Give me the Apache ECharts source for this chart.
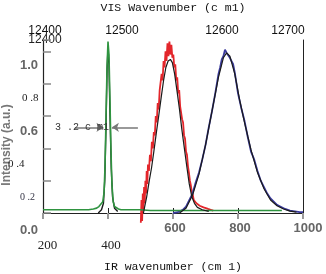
<!DOCTYPE html>
<html lang="en">
  <head>
    <meta charset="UTF-8" />
    <title>IR / VIS spectra</title>
    <style>
      html, body { margin: 0; padding: 0; background: #fff; }
      #chart { width: 326px; height: 274px; }
    </style>
  </head>
  <body>
    <div id="chart"></div>
    <script src="https://cdn.jsdelivr.net/npm/echarts@6/dist/echarts.min.js"></script>
    <script>
      // tick labels
      const yTickLabels = ['0.0', '0 .2', '0 .4', '0.6', '0 .8', '1.0'];
      const topTickLabels = ['12400', '12500', '12600', '12700', ''];

      // green (narrow line near 400)
      const greenX = [200, 230, 260, 290, 320, 340, 355, 365, 372, 378, 384, 388, 391, 394, 397, 400, 403, 406, 409, 412, 416, 420, 426, 432, 440, 460, 480, 500, 530, 560, 600, 640, 680, 720, 760, 800, 840, 880, 920, 935];
      const greenY = [0.02, 0.02, 0.02, 0.02, 0.02, 0.02, 0.025, 0.03, 0.04, 0.05, 0.07, 0.13, 0.3, 0.6, 0.9, 1.06, 0.98, 0.7, 0.4, 0.18, 0.07, 0.04, 0.03, 0.025, 0.02, 0.02, 0.02, 0.02, 0.015, 0.015, 0.015, 0.015, 0.015, 0.015, 0.015, 0.015, 0.015, 0.015, 0.015, 0.015];
      const greenFitX = [370, 380, 386, 390, 394, 397, 400, 403, 406, 410, 414, 420, 430];
      const greenFitY = [0.0, 0.02, 0.06, 0.2, 0.55, 0.88, 1.02, 0.92, 0.62, 0.28, 0.1, 0.03, 0.01];

      // red
      const redX = [501, 503, 505, 507, 509, 511, 513, 515, 517, 519, 521, 523, 526, 529, 532, 535, 538, 541, 544, 547, 550, 553, 556, 559, 562, 565, 568, 571, 574, 577, 580, 583, 586, 589, 592, 595, 598, 601, 604, 607, 610, 613, 616, 619, 622, 625, 628, 631, 634, 637, 640, 643, 646, 649, 652, 655, 658, 661, 664, 668, 672, 677, 682, 688, 694, 700, 708, 716, 724];
      const redY = [-0.06, 0.08, -0.05, 0.12, 0.02, 0.16, 0.06, 0.2, 0.12, 0.26, 0.18, 0.3, 0.26, 0.36, 0.32, 0.44, 0.4, 0.5, 0.48, 0.6, 0.56, 0.68, 0.64, 0.76, 0.76, 0.86, 0.82, 0.94, 0.9, 1.0, 0.94, 1.05, 0.97, 1.06, 0.98, 1.04, 0.96, 0.98, 0.9, 0.92, 0.82, 0.84, 0.74, 0.76, 0.66, 0.66, 0.58, 0.56, 0.48, 0.46, 0.38, 0.36, 0.29, 0.25, 0.2, 0.17, 0.13, 0.11, 0.08, 0.07, 0.06, 0.05, 0.045, 0.04, 0.035, 0.03, 0.025, 0.02, 0.015];
      const redFitX = [509, 519, 527, 534, 541, 549, 556, 564, 571, 578, 585, 592, 598, 605, 612, 620, 627, 635, 643, 650, 658, 666, 675, 690, 710];
      const redFitY = [0.0, 0.1, 0.2, 0.28, 0.38, 0.5, 0.6, 0.72, 0.82, 0.9, 0.94, 0.95, 0.93, 0.86, 0.76, 0.64, 0.52, 0.4, 0.28, 0.18, 0.1, 0.06, 0.035, 0.02, 0.01];

      // blue
      const blueX = [600, 615, 630, 640, 650, 660, 670, 680, 690, 700, 710, 720, 730, 740, 745, 750, 755, 760, 765, 770, 775, 780, 785, 790, 800, 810, 820, 830, 840, 850, 860, 870, 880, 890, 900, 910, 920, 930, 945, 960, 975, 990, 1000];
      const blueY = [0.0, 0.005, 0.02, 0.04, 0.08, 0.12, 0.19, 0.25, 0.33, 0.42, 0.53, 0.63, 0.74, 0.86, 0.9, 0.95, 0.97, 1.01, 0.99, 1.0, 0.96, 0.95, 0.92, 0.87, 0.74, 0.65, 0.57, 0.47, 0.38, 0.33, 0.26, 0.2, 0.16, 0.12, 0.09, 0.07, 0.05, 0.04, 0.025, 0.015, 0.01, 0.005, 0.005];
      const blueFitX = [620, 640, 660, 680, 700, 720, 740, 755, 765, 775, 790, 805, 820, 840, 860, 880, 900, 920, 940, 960, 980];
      const blueFitY = [0.0, 0.03, 0.11, 0.24, 0.42, 0.63, 0.84, 0.96, 0.99, 0.97, 0.86, 0.7, 0.56, 0.39, 0.25, 0.15, 0.08, 0.045, 0.025, 0.012, 0.005];

      // linewidth arrows (data units)
      const arrowL = [[298, 0.53], [386, 0.53]];
      const arrowR = [[492, 0.53], [412, 0.53]];

      const pairs = (xs, ys) => xs.map((x, i) => [x, ys[i]]);

      const graySans = { color: '#666', fontFamily: 'Liberation Sans', fontWeight: 'bold', fontSize: 13 };
      const blackSerif = { color: '#222', fontFamily: 'Liberation Serif', fontSize: 11 };

      function line(name, data, color, width, z) {
        return {
          name: name,
          type: 'line',
          data: data,
          showSymbol: false,
          symbol: 'none',
          clip: false,
          lineStyle: { color: color, width: width },
          z: z,
          animation: false,
        };
      }

      const chart = echarts.init(document.getElementById('chart'));

      const greenSeries = line('green', pairs(greenX, greenY), '#2f9440', 1.6, 3);
      greenSeries.markLine = {
        silent: true,
        animation: false,
        symbol: ['none', 'arrow'],
        symbolSize: 7,
        label: { show: false },
        lineStyle: { color: '#777', width: 1.5, type: 'solid' },
        data: [
          [{ coord: arrowL[0] }, { coord: arrowL[1] }],
          [{ coord: arrowR[0] }, { coord: arrowR[1] }],
        ],
      };

      const option = {
        animation: false,
        grid: [
          { left: 43, right: 23, top: 40, bottom: 61, outerBoundsMode: 'none' },
          { left: 43, right: 23, top: 53.5, bottom: 44, outerBoundsMode: 'none' },
        ],
        xAxis: [
          {
            type: 'value',
            gridIndex: 0,
            min: 200,
            max: 1000,
            interval: 200,
            position: 'bottom',
            name: 'IR wavenumber (cm 1)',
            nameLocation: 'middle',
            nameGap: 48,
            nameTextStyle: { fontFamily: 'Liberation Mono', fontSize: 11.5, color: '#111' },
            axisLine: { lineStyle: { color: '#222', width: 1 } },
            axisTick: { inside: true, length: 5, lineStyle: { color: '#222' } },
            splitLine: { show: false },
            axisLabel: {
              interval: 0,
              margin: 9,
              formatter: (v) => (v <= 400 ? '{s' + v + '|' + v + '}' : v === 1000 ? '{e|' + v + '}' : '{g|' + v + '}'),
              rich: {
                s200: Object.assign({}, blackSerif, { fontSize: 13, padding: [17, 0, 0, 9] }),
                s400: Object.assign({}, blackSerif, { fontSize: 13, padding: [17, 0, 0, 6] }),
                g: Object.assign({}, graySans, { padding: [0, 0, 0, 4] }),
                e: Object.assign({}, graySans, { padding: [0, 0, 0, 10] }),
              },
            },
          },
          {
            type: 'value',
            gridIndex: 0,
            min: 12400,
            max: 12800,
            interval: 100,
            position: 'top',
            name: 'VIS Wavenumber (c m1)',
            nameLocation: 'middle',
            nameGap: 26,
            nameTextStyle: { fontFamily: 'Liberation Mono', fontSize: 11.5, color: '#111' },
            axisLine: { lineStyle: { color: '#222', width: 1 } },
            axisTick: { inside: true, length: 6, lineStyle: { color: '#999', width: 2 } },
            splitLine: { show: false },
            axisLabel: {
              interval: 0,
              margin: 3,
              showMaxLabel: true,
              formatter: (v) => {
                const i = Math.round((v - 12400) / 100);
                return topTickLabels[i] ? '{t' + i + '|' + topTickLabels[i] + '}' : '';
              },
              rich: {
                t0: { color: '#111', fontFamily: 'Liberation Sans', fontSize: 12, padding: [0, 0, 0, 4] },
                t1: { color: '#111', fontFamily: 'Liberation Sans', fontSize: 12, padding: [0, 0, 0, 28] },
                t2: { color: '#111', fontFamily: 'Liberation Sans', fontSize: 12, padding: [0, 0, 0, 98] },
                t3: { color: '#111', fontFamily: 'Liberation Sans', fontSize: 12, padding: [0, 0, 0, 100] },
              },
            },
          },
          { type: 'value', gridIndex: 1, min: 200, max: 1000, show: false },
        ],
        yAxis: [
          {
            type: 'value',
            gridIndex: 0,
            min: 0,
            max: 1.07,
            interval: 0.2,
            position: 'left',
            axisLine: { show: true, lineStyle: { color: '#222', width: 1.2 } },
            axisTick: { show: true, inside: true, length: 8, lineStyle: { color: '#888', width: 1.5 } },
            axisLabel: { show: false },
            splitLine: { show: false },
          },
          {
            type: 'value',
            gridIndex: 0,
            min: 0,
            max: 1.07,
            position: 'right',
            axisLine: { show: true, lineStyle: { color: '#222', width: 1 } },
            axisTick: { show: false },
            axisLabel: { show: false },
            splitLine: { show: false },
          },
          {
            type: 'value',
            gridIndex: 1,
            min: 0,
            max: 1.07,
            interval: 0.2,
            axisLine: { show: false },
            axisTick: { show: false },
            splitLine: { show: false },
            axisLabel: {
              align: 'left',
              margin: 35,
              formatter: (v) => {
                const i = Math.round(v / 0.2);
                return '{y' + i + '|' + yTickLabels[i] + '}';
              },
              rich: {
                y0: Object.assign({}, graySans, { padding: [0, 0, 0, 12] }),
                y1: Object.assign({}, blackSerif, { fontSize: 10, color: '#334', padding: [0, 0, 0, 12] }),
                y2: Object.assign({}, blackSerif, { padding: [0, 0, 0, 0] }),
                y3: Object.assign({}, graySans, { padding: [0, 0, 0, 12] }),
                y4: Object.assign({}, blackSerif, { padding: [0, 0, 0, 14] }),
                y5: Object.assign({}, graySans, { padding: [0, 0, 0, 12] }),
              },
            },
          },
        ],
        graphic: [
          {
            type: 'text',
            x: 7,
            y: 145,
            rotation: Math.PI / 2,
            style: {
              text: 'Intensity (a.u.)',
              fill: '#777',
              font: 'bold 12px "Liberation Sans"',
              textAlign: 'center',
              textVerticalAlign: 'middle',
            },
          },
          {
            type: 'text',
            x: 45,
            y: 40,
            style: {
              text: '12400',
              fill: '#222',
              font: '12px "Liberation Sans"',
              textAlign: 'center',
              textVerticalAlign: 'middle',
            },
          },
          {
            type: 'text',
            x: 55,
            y: 127,
            z: 10,
            style: {
              text: '3 .2 c m1',
              fill: '#333',
              font: '10px "Liberation Mono"',
              textAlign: 'left',
              textVerticalAlign: 'middle',
            },
          },
        ],
        series: [
          line('green fit', pairs(greenFitX, greenFitY), '#1a1a1a', 1.4, 2),
          greenSeries,
          line('red', pairs(redX, redY), '#e3262b', 1.8, 2),
          line('blue', pairs(blueX, blueY), '#3a3a9c', 1.8, 2),
          line('red fit', pairs(redFitX, redFitY), '#1a1a1a', 1.2, 4),
          line('blue fit', pairs(blueFitX, blueFitY), '#1a1a1a', 1.2, 4),
        ],
      };

      chart.setOption(option);
    </script>
  </body>
</html>
